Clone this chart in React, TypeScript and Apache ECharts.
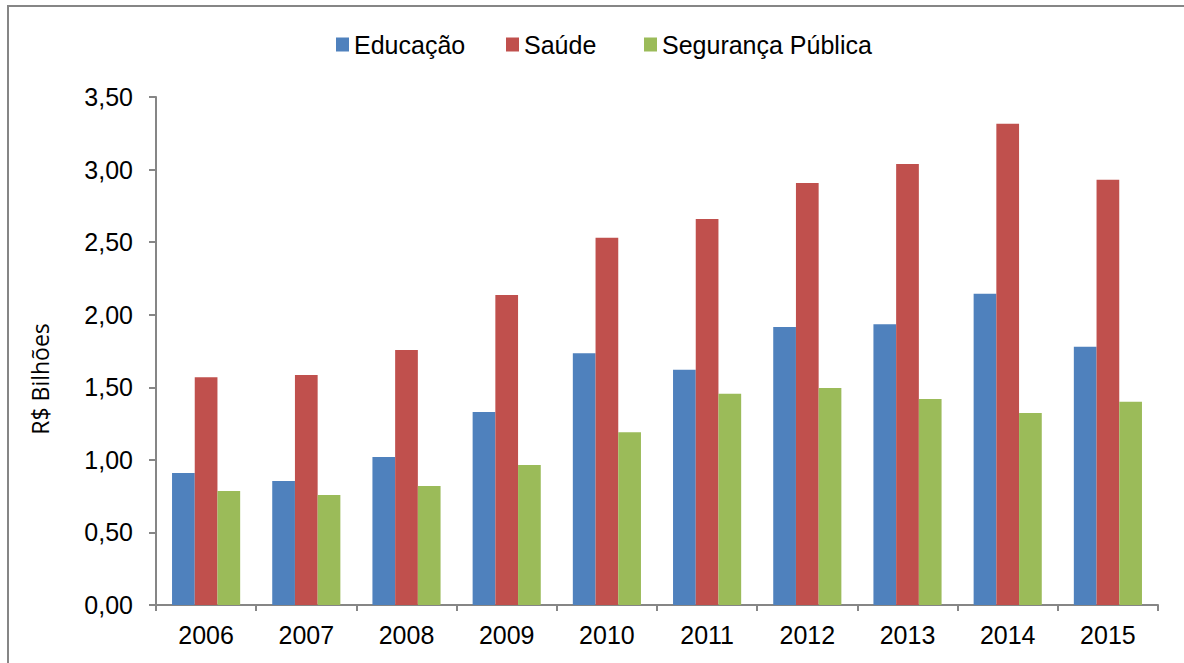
import React, { useEffect, useRef } from "react";
import * as echarts from "echarts";

const years = ["2006", "2007", "2008", "2009", "2010", "2011", "2012", "2013", "2014", "2015"];
const educacao = [0.91, 0.855, 1.02, 1.33, 1.735, 1.62, 1.915, 1.935, 2.145, 1.78];
const saude = [1.57, 1.585, 1.757, 2.135, 2.53, 2.66, 2.907, 3.038, 3.315, 2.93];
const seguranca = [0.785, 0.758, 0.82, 0.965, 1.19, 1.455, 1.495, 1.42, 1.323, 1.4];
const yTicks = { min: 0, max: 3.5, interval: 0.5 };

const seriesNames = ["Educação", "Saúde", "Segurança Pública"];
const colors = ["#4F81BD", "#C0504D", "#9BBB59"];
const legendLefts = [331, 501, 639];

export default function App() {
  const ref = useRef<HTMLDivElement>(null);
  useEffect(() => {
    if (!ref.current) return;
    const chart = echarts.init(ref.current, undefined, { renderer: "svg" });
    const font = "'Liberation Sans', Arial, sans-serif";
    const data = [educacao, saude, seguranca];
    chart.setOption({
      animation: false,
      backgroundColor: "#ffffff",
      textStyle: { fontFamily: font },
      legend: seriesNames.map((n, i) => ({
        data: [n],
        left: legendLefts[i],
        top: 27,
        itemWidth: 13,
        itemHeight: 14,
        icon: "rect",
        textStyle: { fontSize: 25, color: "#000", fontFamily: font },
      })),
      grid: { left: 156, top: 97, right: 26, bottom: 58 },
      xAxis: {
        type: "category",
        data: years,
        axisLine: { lineStyle: { color: "#868686", width: 2 } },
        axisTick: { show: true, alignWithLabel: false, length: 6, lineStyle: { color: "#868686", width: 2 } },
        axisLabel: { fontSize: 25, color: "#000", margin: 17, fontFamily: font },
        splitLine: { show: false },
      },
      yAxis: {
        type: "value",
        min: yTicks.min,
        max: yTicks.max,
        interval: yTicks.interval,
        axisLine: { show: true, lineStyle: { color: "#868686", width: 2 } },
        axisTick: { show: true, length: 7, lineStyle: { color: "#868686", width: 2 } },
        axisLabel: {
          fontSize: 25,
          color: "#000",
          margin: 23,
          fontFamily: font,
          formatter: (v: number) => v.toFixed(2).replace(".", ","),
        },
        splitLine: { show: false },
      },
      series: seriesNames.map((n, i) => ({
        name: n,
        type: "bar",
        data: data[i],
        barGap: "0%",
        barCategoryGap: "32%",
        itemStyle: { color: colors[i] },
      })),
      graphic: [
        {
          type: "rect",
          shape: { x: 8, y: 6, width: 1300, height: 800 },
          style: { fill: "none", stroke: "#868686", lineWidth: 2 },
          silent: true,
        },
        {
          type: "text",
          x: 40,
          y: 379,
          rotation: Math.PI / 2,
          style: {
            text: "R$ Bilhões",
            fontSize: 23,
            fontFamily: "'Open Sans', 'Noto Sans', sans-serif",
            fill: "#000",
            align: "center",
            verticalAlign: "middle",
          },
        },
      ],
    });
    return () => chart.dispose();
  }, []);
  return (
    <div
      ref={ref}
      style={{ position: "absolute", left: 0, top: 0, width: 1184, height: 663 }}
    />
  );
}
